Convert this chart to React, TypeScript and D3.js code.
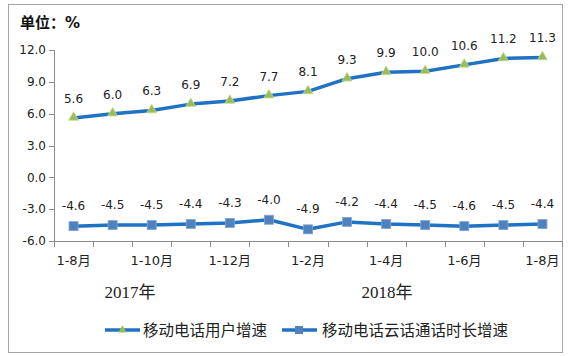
import React from "react";
import * as d3 from "d3";

const categories = ["2017-1-8", "2017-1-9", "2017-1-10", "2017-1-11", "2017-1-12", "2018-1-1", "2018-1-2", "2018-1-3", "2018-1-4", "2018-1-5", "2018-1-6", "2018-1-7", "2018-1-8"];
const userGrowth = [5.6, 6.0, 6.3, 6.9, 7.2, 7.7, 8.1, 9.3, 9.9, 10.0, 10.6, 11.2, 11.3];
const callGrowth = [-4.6, -4.5, -4.5, -4.4, -4.3, -4.0, -4.9, -4.2, -4.4, -4.5, -4.6, -4.5, -4.4];
const tickLabels = ["1-8月", "", "1-10月", "", "1-12月", "", "1-2月", "", "1-4月", "", "1-6月", "", "1-8月"];
const yTicks = [-6, -3, 0, 3, 6, 9, 12];
const years = ["2017年", "2018年"];
const seriesNames = ["移动电话用户增速", "移动电话云话通话时长增速"];

const W = 570, H = 356;
const LINE = "#1f72c4";
const TRI = "#9bbb59";
const SQ = "#4f81bd";
const AXIS = "#8c8c8c";
const FONT = "'DejaVu Sans', 'Noto Sans CJK SC', sans-serif";

export default function App() {
  const x = d3.scaleBand<number>().domain(categories.map((_, i) => i)).range([54, 562]);
  const cx = (i: number) => (x(i) as number) + x.bandwidth() / 2;
  const y = d3.scaleLinear().domain([-6, 12]).range([241, 50]);
  const yearX = d3.scalePoint<number>().domain(years.map((_, i) => i)).range([130, 387]);
  const line = d3.line<number>().x((_, i) => cx(i)).y((d) => y(d));
  const tri = d3.symbol().type(d3.symbolTriangle).size(42)() as string;
  const boundaries = d3.range(categories.length + 1).map((i) => 54 + i * x.step());

  return (
    <svg width={W} height={H} style={{ position: "absolute", left: 0, top: 0, background: "#fff" }}>
      <rect x={8.5} y={4.5} width={554} height={348} fill="#fff" stroke="#a6a6a6" strokeWidth={1} />
      <text x={20} y={28} fontFamily={FONT} fontSize={15} fontWeight="bold" fill="#111">单位：%</text>
      {/* y axis */}
      <line x1={54.5} x2={54.5} y1={y(12)} y2={y(-6)} stroke={AXIS} />
      {yTicks.map((t) => (
        <g key={t}>
          <line x1={49} x2={54.5} y1={Math.round(y(t)) + 0.5} y2={Math.round(y(t)) + 0.5} stroke={AXIS} />
          <text x={46} y={y(t)} dy="0.35em" textAnchor="end" fontFamily={FONT} fontSize={12} fill="#222">{t.toFixed(1)}</text>
        </g>
      ))}
      {/* x axis */}
      <line x1={54} x2={562} y1={241.5} y2={241.5} stroke={AXIS} />
      {boundaries.map((b, i) => (
        <line key={i} x1={Math.round(b) + 0.5} x2={Math.round(b) + 0.5} y1={241.5} y2={247} stroke={AXIS} />
      ))}
      {tickLabels.map((t, i) => t ? (
        <text key={i} x={cx(i)} y={265} textAnchor="middle" fontFamily={FONT} fontSize={13} fill="#222">{t}</text>
      ) : null)}
      {years.map((t, i) => (
        <text key={i} x={yearX(i)} y={298} textAnchor="middle" fontFamily="'Liberation Serif', 'Noto Sans CJK SC', serif" fontSize={17} fill="#222">{t}</text>
      ))}
      {/* series 1 */}
      <path d={line(userGrowth) as string} fill="none" stroke={LINE} strokeWidth={3.5} strokeLinejoin="round" />
      {userGrowth.map((v, i) => (
        <g key={i}>
          <path d={tri} transform={`translate(${cx(i)},${y(v) - 0.5})`} fill={TRI} stroke="#c5dc8e" strokeWidth={0.8} />
          <text x={cx(i)} y={y(v) - 15} textAnchor="middle" fontFamily={FONT} fontSize={12} fill="#222">{v.toFixed(1)}</text>
        </g>
      ))}
      {/* series 2 */}
      <path d={line(callGrowth) as string} fill="none" stroke={LINE} strokeWidth={3.5} strokeLinejoin="round" />
      {callGrowth.map((v, i) => (
        <g key={i}>
          <rect x={cx(i) - 4.5} y={y(v) - 4.5} width={9} height={9} fill={SQ} stroke="#7fa5d6" strokeWidth={0.8} />
          <text x={cx(i)} y={y(v) - 16} textAnchor="middle" fontFamily={FONT} fontSize={12} fill="#222">{v.toFixed(1)}</text>
        </g>
      ))}
      {/* legend */}
      <g>
        <line x1={105} x2={140} y1={330} y2={330} stroke={LINE} strokeWidth={3.5} />
        <path d={d3.symbol().type(d3.symbolTriangle).size(30)() as string} transform="translate(122.5,330)" fill={TRI} />
        <text x={143} y={330} dy="0.36em" fontFamily={FONT} fontSize={15.5} fill="#222">{seriesNames[0]}</text>
        <line x1={282} x2={317} y1={330} y2={330} stroke={LINE} strokeWidth={3.5} />
        <rect x={295} y={326} width={8} height={8} fill={SQ} />
        <text x={322} y={330} dy="0.36em" fontFamily={FONT} fontSize={15.5} fill="#222">{seriesNames[1]}</text>
      </g>
    </svg>
  );
}
